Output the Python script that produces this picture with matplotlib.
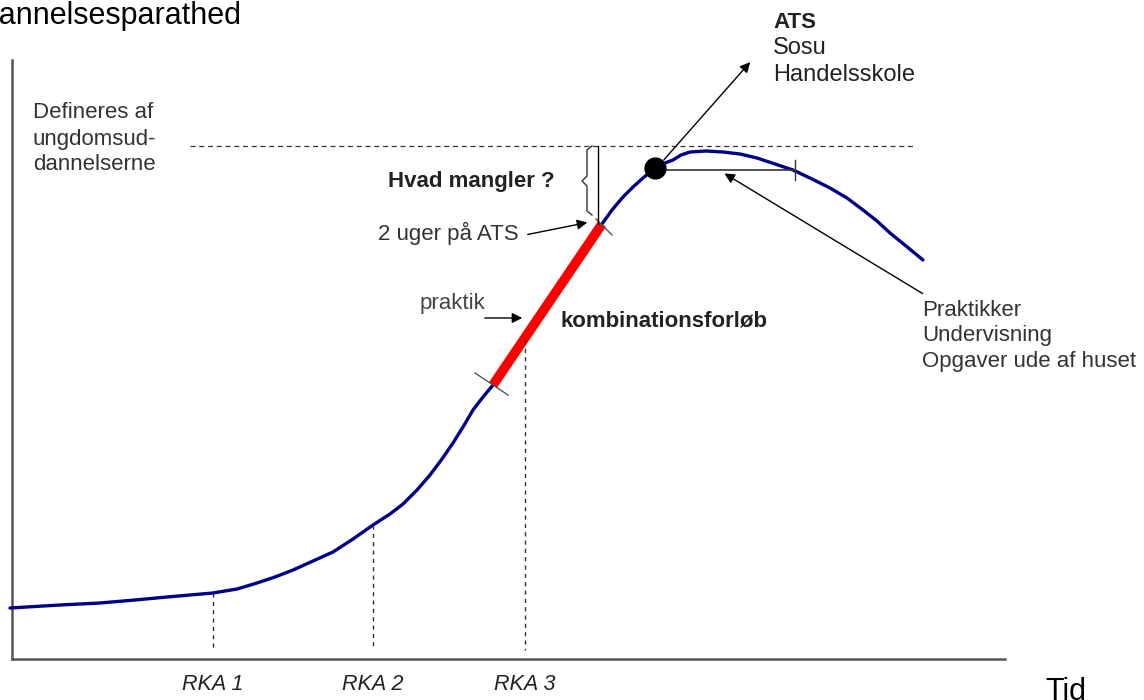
import numpy as np
import matplotlib.pyplot as plt

# curve through time (pixel-space of the diagram, y grows downward)
tid = [10, 60, 100, 135, 167, 190, 213, 237, 257, 275, 293, 313, 333, 353, 373,
       390, 403, 417, 430, 442, 453, 463, 473, 483, 493]
parathed = [608, 605, 603, 600, 597, 595, 593, 589, 583, 577, 570, 561, 552, 539, 525,
            514, 504, 490, 475, 459, 443, 427, 410, 397, 385]
tid_top = [602, 612, 623, 633, 643, 655, 665, 673, 681, 690, 706, 723, 740, 757,
           775, 793, 812, 830, 847, 863, 877, 890, 906, 923]
parathed_top = [224, 210, 197, 187, 178, 168, 163, 160, 155, 152, 151, 152, 154, 158,
                164, 170, 179, 188, 198, 210, 221, 233, 246, 260]
# combination course (red)
komb_x = [493, 602]
komb_y = [385, 224]
# RKA markers
rka_labels = ['RKA 1', 'RKA 2', 'RKA 3']
rka_x = [213, 373, 525]
rka_y = [593, 525, 340]

plt.rcParams['font.family'] = ['Liberation Sans', 'DejaVu Sans']
fig = plt.figure(figsize=(11.44, 7.0), dpi=100)
ax = fig.add_axes([0, 0, 1, 1])
ax.set_xlim(0, 1144)
ax.set_ylim(700, 0)
ax.axis('off')

# axes lines
ax.plot([12, 12], [60, 659], color='#555555', lw=1.8)
ax.plot([12, 1005], [659, 659], color='#555555', lw=1.8)

# curve
ax.plot(tid, parathed, color='#00008B', lw=2.4, solid_capstyle='round', solid_joinstyle='round')
ax.plot(tid_top, parathed_top, color='#00008B', lw=2.4, solid_capstyle='round', solid_joinstyle='round')
ax.plot(komb_x, komb_y, color='#FF0000', lw=7, solid_capstyle='butt')

# small ticks at ends of red segment
ax.plot([475, 508], [373, 395], color='#555555', lw=1)
ax.plot([596, 612], [219, 235], color='#555555', lw=1)

# RKA dashed lines + labels
for lab, x, y in zip(rka_labels, rka_x, rka_y):
    ax.plot([x, x], [y, 650], color='#333333', lw=1, ls=(0, (3, 3)))
    ax.text(x, 684, lab, ha='center', va='center', fontsize=15.5, style='italic', color='#222222')

# dashed top line
ax.plot([190, 915], [146, 146], color='#333333', lw=0.9, ls=(0, (4, 3)))

# vertical line and brace
ax.plot([598, 598], [146, 224], color='black', lw=1)
bx = [592, 587, 587, 582, 587, 587, 592]
by = [146, 150, 176, 181, 186, 211, 215]
ax.plot(bx, by, color='#333333', lw=1)

# dot and horizontal line
ax.plot([655, 795], [170, 170], color='#333333', lw=1.2)
ax.plot([795, 795], [160, 180], color='#333333', lw=1)
ax.plot([655], [168], 'o', color='black', ms=15)

arrow = dict(arrowstyle='-|>', color='black', lw=1, mutation_scale=15)
ax.annotate('', xy=(752, 60), xytext=(662, 162), arrowprops=arrow)
ax.annotate('', xy=(722, 172), xytext=(925, 295), arrowprops=arrow)
ax.annotate('', xy=(590, 222), xytext=(525, 235), arrowprops=arrow)
ax.annotate('', xy=(525, 318), xytext=(482, 318), arrowprops=arrow)

# texts
fs = 16
ax.text(242, 16, 'Uddannelsesparathed', ha='right', va='center', fontsize=22, color='black')
ax.text(33, 112, 'Defineres af', ha='left', va='center', fontsize=fs, color='#333333')
ax.text(33, 139, 'ungdomsud-', ha='left', va='center', fontsize=fs, color='#333333')
ax.text(33, 165, 'dannelserne', ha='left', va='center', fontsize=fs, color='#333333')
ax.text(388, 181, 'Hvad mangler ?', ha='left', va='center', fontsize=fs, weight='bold', color='#222222')
ax.text(378, 233, '2 uger på ATS', ha='left', va='center', fontsize=fs, color='#333333')
ax.text(420, 304, 'praktik', ha='left', va='center', fontsize=fs, color='#444444')
ax.text(560, 321, 'kombinationsforløb', ha='left', va='center', fontsize=fs, weight='bold', color='#222222')
ax.text(773, 22, 'ATS', ha='left', va='center', fontsize=fs, weight='bold', color='#222222')
ax.text(773, 48, 'Sosu', ha='left', va='center', fontsize=17, color='#222222')
ax.text(773, 75, 'Handelsskole', ha='left', va='center', fontsize=17, color='#222222')
ax.text(922, 310, 'Praktikker', ha='left', va='center', fontsize=fs, color='#333333')
ax.text(922, 336, 'Undervisning', ha='left', va='center', fontsize=fs, color='#333333')
ax.text(922, 361, 'Opgaver ude af huset', ha='left', va='center', fontsize=fs, color='#333333')
ax.text(1045, 692, 'Tid', ha='left', va='center', fontsize=22, color='black')

fig.savefig('out.png', dpi=100)
